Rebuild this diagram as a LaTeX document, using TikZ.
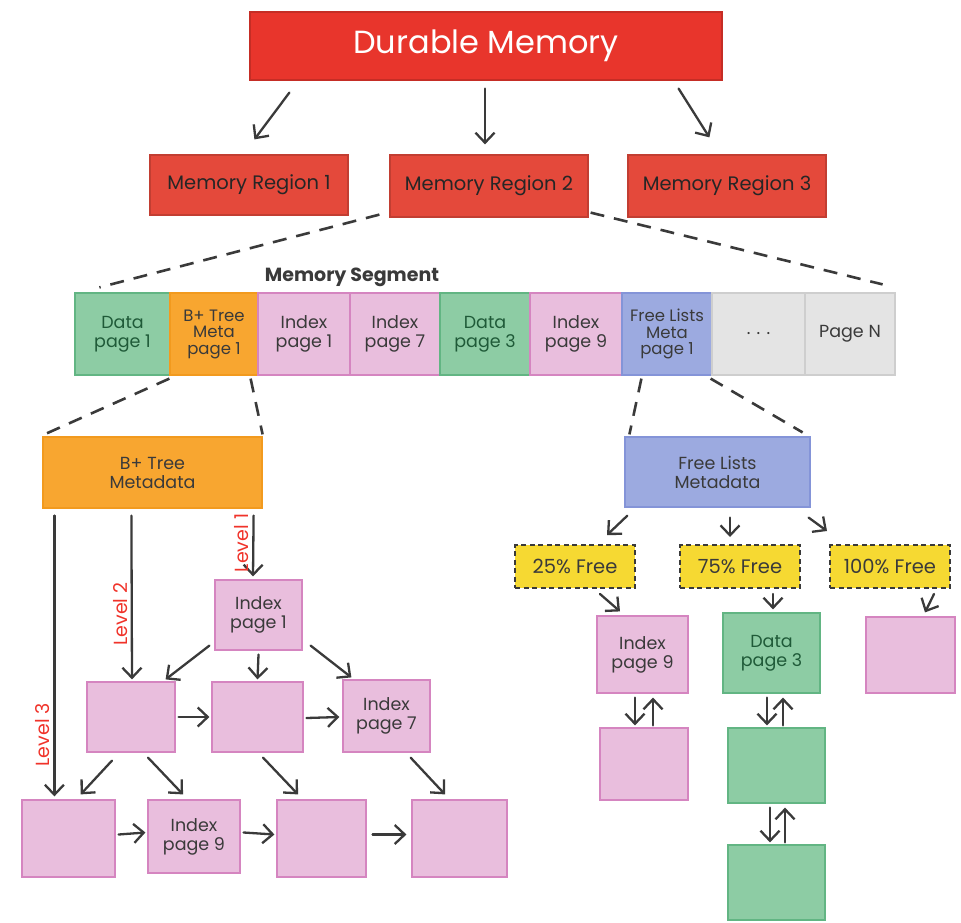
\documentclass[tikz,border=0pt]{standalone}
\usepackage{fontspec}
\setmainfont{Poppins}
\usetikzlibrary{arrows.meta}
\definecolor{durred}{HTML}{E8352C}
\definecolor{regred}{HTML}{E4493B}
\definecolor{pinkf}{HTML}{E9BEDD}
\definecolor{pinkd}{HTML}{D585C0}
\definecolor{greenf}{HTML}{8DCCA4}
\definecolor{greend}{HTML}{62B583}
\definecolor{greent}{HTML}{1F5A38}
\definecolor{orangef}{HTML}{F8A630}
\definecolor{oranged}{HTML}{F29A1E}
\definecolor{bluef}{HTML}{9CAAE0}
\definecolor{blued}{HTML}{8494D8}
\definecolor{greyf}{HTML}{E4E4E4}
\definecolor{greyd}{HTML}{CECECE}
\definecolor{yellowf}{HTML}{F6D932}
\definecolor{inkc}{HTML}{3A3A3A}
\definecolor{levelc}{HTML}{F0332A}
\begin{document}
\begin{tikzpicture}[x=1pt,y=-1pt,
  sz/.style 2 args={minimum width=#1pt,minimum height=#2pt},
  box/.style={draw,line width=1.2pt,inner sep=1pt,align=center,text=inkc,
    font=\fontsize{17.5}{19}\selectfont},
  tight/.style={font=\fontsize{16.5}{16.5}\selectfont},
  redtop/.style={box,fill=durred,draw=durred!85!black,text=white,
    font=\fontsize{32}{34}\selectfont},
  region/.style={box,fill=regred,draw=regred!85!black,text=black!85,
    font=\fontsize{19.5}{21}\selectfont},
  pinkbox/.style={box,fill=pinkf,draw=pinkd},
  greenbox/.style={box,fill=greenf,draw=greend,text=greent},
  orangebox/.style={box,fill=orangef,draw=oranged},
  bluebox/.style={box,fill=bluef,draw=blued},
  greybox/.style={box,fill=greyf,draw=greyd},
  freebox/.style={box,fill=yellowf,draw=inkc,line width=2pt,
    dash pattern=on 5pt off 3.5pt,font=\fontsize{19.5}{21}\selectfont},
  arr/.style={draw=inkc,line width=2.3pt,line cap=round,
    -{Straight Barb[length=10pt,width=19pt]}},
  zoomline/.style={draw=inkc,line width=2.6pt,dash pattern=on 14pt off 10pt},
  levellbl/.style={text=levelc,rotate=90,font=\fontsize{19}{20}\selectfont},
]
\useasboundingbox (0,0) rectangle (961,923);

% top level and regions
\node[redtop,sz={472}{68}] (dm) at (486,46) {Durable Memory};
\node[region,sz={198}{60}] (r1) at (249,185) {Memory Region 1};
\node[region,sz={198}{62}] (r2) at (489,186) {Memory Region 2};
\node[region,sz={198}{62}] (r3) at (727,186) {Memory Region 3};

\draw[arr] ([xshift=40pt,yshift=-12pt]dm.south west) -- ([xshift=105pt,yshift=15pt]r1.north west);
\draw[arr] ([xshift=-1pt,yshift=-8pt]dm.south) -- ([xshift=-4pt,yshift=10pt]r2.north);
\draw[arr] ([xshift=-44pt,yshift=-8pt]dm.south east) -- ([xshift=82pt,yshift=17pt]r3.north west);

% memory segment strip
\node[font=\bfseries\fontsize{19}{20}\selectfont,text=inkc] (seglbl) at (352,277) {Memory Segment};
\node[greenbox,sz={95}{82}] (d1) at (122.5,334) {Data\\page 1};
\node[orangebox,tight,sz={88}{82}] (bm) at (214,334) {B+ Tree\\Meta\\page 1};
\node[pinkbox,sz={92}{82}] (i1) at (304,334) {Index\\page 1};
\node[pinkbox,sz={90}{82}] (i7) at (395,334) {Index\\page 7};
\node[greenbox,sz={90}{82}] (d3) at (485,334) {Data\\page 3};
\node[pinkbox,sz={92}{82}] (i9) at (576,334) {Index\\page 9};
\node[bluebox,tight,sz={90}{82}] (fm) at (667,334) {Free Lists\\Meta\\page 1};
\node[greybox,sz={93}{82}] (dots) at (758.5,334) {. . .};
\node[greybox,sz={90}{82}] (pn) at (850,334) {Page N};

\draw[zoomline] ([xshift=-10pt,yshift=3pt]r2.south west) -- ([xshift=25pt,yshift=5pt]d1.north west);
\draw[zoomline] ([xshift=2pt,yshift=5pt]r2.south east) -- ([xshift=-13pt,yshift=8pt]pn.north east);

% B+ tree metadata
\node[orangebox,sz={219}{71}] (btm) at (152.5,472.5) {B+ Tree\\Metadata};
\draw[zoomline] ([yshift=-3pt]bm.south west) -- ([xshift=2pt,yshift=2pt]btm.north west);
\draw[zoomline] ([xshift=-8pt,yshift=-3pt]bm.south east) -- ([yshift=2pt]btm.north east);

% free lists metadata
\node[bluebox,sz={185}{70}] (flm) at (717.5,472) {Free Lists\\Metadata};
\draw[zoomline] ([xshift=20pt,yshift=-3pt]fm.south west) -- ([xshift=5pt,yshift=2pt]flm.north west);
\draw[zoomline] ([xshift=-2pt,yshift=-3pt]fm.south east) -- ([xshift=-8pt,yshift=4pt]flm.north east);

% B+ tree pages
\node[pinkbox,sz={87}{70}] (ip1) at (258.5,615) {Index\\page 1};
\node[pinkbox,sz={88}{70}] (ta) at (131,717) {};
\node[pinkbox,sz={91}{70}] (tb) at (257.5,717) {};
\node[pinkbox,sz={87}{72}] (ip7) at (386.5,716) {Index\\page 7};
\node[pinkbox,sz={93}{77}] (tc) at (68.5,838.5) {};
\node[pinkbox,sz={92}{73}] (ip9) at (194,836.5) {Index\\page 9};
\node[pinkbox,sz={89}{77}] (td) at (321.5,838.5) {};
\node[pinkbox,sz={95}{77}] (te) at (459.5,838.5) {};

\draw[arr] ([xshift=12pt,yshift=-7pt]btm.south west) -- ([xshift=33pt,yshift=3pt]tc.north west)
  node[levellbl,pos=0.78,anchor=south] (lv3) {Level 3};
\draw[arr] ([xshift=89pt,yshift=-7pt]btm.south west) -- ([xshift=1pt,yshift=2pt]ta.north)
  node[levellbl,pos=0.6,anchor=south] (lv2) {Level 2};
\draw[arr] ([xshift=-9pt,yshift=-7pt]btm.south east) -- ([xshift=-5.5pt,yshift=3pt]ip1.north)
  node[levellbl,pos=0.45,anchor=south] (lv1) {Level 1};

\draw[arr] ([xshift=-5pt,yshift=5pt]ip1.south west) -- ([xshift=-10pt,yshift=2pt]ta.north east);
\draw[arr] ([yshift=-4pt]ip1.south) -- ([yshift=2pt]tb.north);
\draw[arr] ([xshift=8pt,yshift=5pt]ip1.south east) -- ([xshift=9pt,yshift=2pt]ip7.north west);
\draw[arr] ([xshift=3pt]ta.east) -- ([xshift=-2pt]tb.west);
\draw[arr] ([xshift=3pt,yshift=-1pt]tb.east) -- ([xshift=-3pt,yshift=-1pt]ip7.west);
\draw[arr] ([xshift=-19pt,yshift=-8pt]ta.south) -- ([xshift=-35pt,yshift=5pt]tc.north east);
\draw[arr] ([xshift=17pt,yshift=-5pt]ta.south) -- ([xshift=-11pt,yshift=5pt]ip9.north);
\draw[arr] ([xshift=5.5pt,yshift=-5pt]tb.south) -- ([xshift=-23.5pt,yshift=5pt]td.north);
\draw[arr] ([xshift=-20pt,yshift=-5pt]ip7.south east) -- ([xshift=-14.5pt,yshift=5pt]te.north);
\draw[arr] ([xshift=3pt,yshift=4pt]tc.east) -- ([xshift=-2pt,yshift=4pt]ip9.west);
\draw[arr] ([xshift=3pt,yshift=4pt]ip9.east) -- ([xshift=-2pt,yshift=4pt]td.west);
\draw[arr] ([xshift=6pt,yshift=4pt]td.east) -- ([xshift=-5pt,yshift=4pt]te.west);

% free lists
\node[freebox,sz={120}{43}] (f25) at (575,566.5) {25\% Free};
\node[freebox,sz={120}{43}] (f75) at (740,566.5) {75\% Free};
\node[freebox,sz={120}{43}] (f100) at (890,566.5) {100\% Free};

\draw[arr] ([xshift=3pt,yshift=-8pt]flm.south west) -- ([xshift=32pt,yshift=9pt]f25.north);
\draw[arr] ([xshift=12.5pt,yshift=-10pt]flm.south) -- ([xshift=-10pt,yshift=7pt]f75.north);
\draw[arr] ([xshift=-2pt,yshift=-10pt]flm.south east) -- ([xshift=-2pt,yshift=13pt]f100.north west);

\node[pinkbox,sz={91}{77}] (ri9) at (642.5,654.5) {Index\\page 9};
\node[greenbox,sz={97}{80}] (rd3) at (771.5,653) {Data\\page 3};
\node[pinkbox,sz={89}{76}] (r100) at (910.5,655) {};
\node[pinkbox,sz={88}{72}] (ri9b) at (644,764) {};
\node[greenbox,sz={97}{75}] (rd3b) at (776.5,765.5) {};
\node[greenbox,sz={97}{75}] (rd3c) at (776.5,882.5) {};

\draw[arr] ([xshift=25pt,yshift=-5pt]f25.south) -- ([xshift=-22.5pt,yshift=4pt]ri9.north);
\draw[arr] ([xshift=33pt,yshift=-5pt]f75.south) -- ([xshift=1.5pt,yshift=3pt]rd3.north);
\draw[arr] ([xshift=-17pt,yshift=-5pt]f100.south east) -- ([xshift=14.5pt,yshift=4pt]r100.north);

\draw[arr] ([xshift=-7.5pt,yshift=-4pt]ri9.south) -- ([xshift=-9pt,yshift=2pt]ri9b.north);
\draw[arr] ([xshift=9pt,yshift=2pt]ri9b.north) -- ([xshift=10.5pt,yshift=-4pt]ri9.south);
\draw[arr] ([xshift=-4.5pt,yshift=-4pt]rd3.south) -- ([xshift=-9.5pt,yshift=2pt]rd3b.north);
\draw[arr] ([xshift=6.5pt,yshift=2pt]rd3b.north) -- ([xshift=11.5pt,yshift=-4pt]rd3.south);
\draw[arr] ([xshift=-6.5pt,yshift=-4pt]rd3b.south) -- ([xshift=-6.5pt,yshift=2pt]rd3c.north);
\draw[arr] ([xshift=8.5pt,yshift=2pt]rd3c.north) -- ([xshift=8.5pt,yshift=-4pt]rd3b.south);
\end{tikzpicture}
\end{document}
